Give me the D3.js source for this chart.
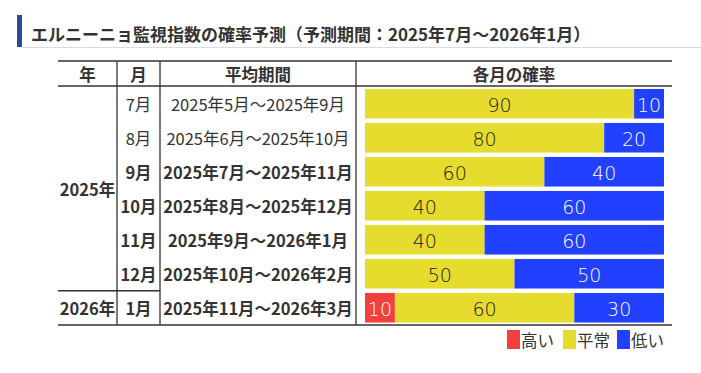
<!DOCTYPE html>
<html lang="ja">
<head>
  <meta charset="UTF-8">
  <title>エルニーニョ監視指数の確率予測</title>
  <script src="https://cdn.jsdelivr.net/npm/d3@7"></script>
  <style>
    body { margin: 0; background: #fff; }
    svg { display: block; font-family: "Noto Sans CJK JP", "Noto Sans", sans-serif; }
    .cell { fill: #333; font-size: 16.5px; }
    .num { font-family: "DejaVu Sans", sans-serif; font-weight: 200; font-size: 19px; }
  </style>
</head>
<body>
<svg id="chart" width="701" height="373"></svg>
<script>
  const title   = "エルニーニョ監視指数の確率予測（予測期間：2025年7月～2026年1月）";
  const headers = ["年", "月", "平均期間", "各月の確率"];
  const months  = ["7月", "8月", "9月", "10月", "11月", "12月", "1月"];
  const periods = ["2025年5月～2025年9月", "2025年6月～2025年10月", "2025年7月～2025年11月",
                   "2025年8月～2025年12月", "2025年9月～2026年1月", "2025年10月～2026年2月",
                   "2025年11月～2026年3月"];
  const boldRow = [false, false, true, true, true, true, true];
  const years   = [{ label: "2025年", from: 0, to: 5 }, { label: "2026年", from: 6, to: 6 }];
  const high    = [0, 0, 0, 0, 0, 0, 10];
  const normal  = [90, 80, 60, 40, 40, 50, 60];
  const low     = [10, 20, 40, 60, 60, 50, 30];
  const keys    = ["高い", "平常", "低い"];
  const colors  = ["#f43f3f", "#e6dc2e", "#2140ff"];
  const textCol = ["#fff", "#222", "#fff"];

  const svg = d3.select("#chart");

  // title
  svg.append("rect").attr("x", 17).attr("y", 15).attr("width", 5).attr("height", 32).attr("fill", "#2b4a9a");
  svg.append("line").attr("x1", 22).attr("x2", 701).attr("y1", 47.5).attr("y2", 47.5)
    .attr("stroke", "#d8dbe6").attr("stroke-width", 1);
  svg.append("text").attr("x", 31).attr("y", 33).attr("dominant-baseline", "central")
    .attr("font-size", 17).attr("font-weight", "bold").attr("fill", "#333").text(title);

  // table frame
  const colX = [58, 117, 160, 356, 672];
  const tTop = 61, tHead = 86, tBottom = 325;
  const y = d3.scaleBand().domain(d3.range(months.length))
    .range([86.75, 324.75]).paddingInner(0.13).paddingOuter(0.065);
  const x = d3.scaleLinear().domain([0, 100]).range([365, 664]);

  const lines = svg.append("g").attr("stroke", "#333").attr("stroke-width", 1.3);
  [tTop, tHead, tBottom].forEach(v =>
    lines.append("line").attr("x1", colX[0]).attr("x2", colX[4]).attr("y1", v).attr("y2", v));
  colX.slice(1, 4).forEach(v =>
    lines.append("line").attr("x1", v).attr("x2", v).attr("y1", tTop).attr("y2", tBottom));
  const split = (y(years[0].to) + y.bandwidth() + y(years[1].from)) / 2;
  lines.append("line").attr("x1", colX[0]).attr("x2", colX[2]).attr("y1", split).attr("y2", split);

  // headers
  svg.append("g").selectAll("text").data(headers).join("text")
    .attr("class", "cell").attr("font-weight", "bold").attr("text-anchor", "middle")
    .attr("dominant-baseline", "central")
    .attr("x", (d, i) => (colX[i] + colX[i + 1]) / 2).attr("y", (tTop + tHead) / 2)
    .text(d => d);

  // year cells
  svg.append("g").selectAll("text").data(years).join("text")
    .attr("class", "cell").attr("font-weight", "bold").attr("text-anchor", "middle")
    .attr("dominant-baseline", "central")
    .attr("x", (colX[0] + colX[1]) / 2)
    .attr("y", d => (y(d.from) + y(d.to) + y.bandwidth()) / 2)
    .text(d => d.label);

  // month + period cells
  const rows = svg.append("g").selectAll("g").data(months).join("g")
    .attr("transform", (d, i) => `translate(0,${y(i) + y.bandwidth() / 2})`)
    .attr("font-weight", (d, i) => boldRow[i] ? "bold" : "normal");
  rows.append("text").attr("class", "cell").attr("text-anchor", "middle").attr("dominant-baseline", "central")
    .attr("x", (colX[1] + colX[2]) / 2).text(d => d);
  rows.append("text").attr("class", "cell").attr("text-anchor", "middle").attr("dominant-baseline", "central")
    .attr("x", (colX[2] + colX[3]) / 2).text((d, i) => periods[i]);

  // stacked bars
  const table = months.map((m, i) => ({ "高い": high[i], "平常": normal[i], "低い": low[i] }));
  const stack = d3.stack().keys(keys)(table);
  const segs = stack.flatMap((layer, k) => layer.map((v, i) => ({ k, i, x0: v[0], x1: v[1] })))
    .filter(d => d.x1 > d.x0);

  svg.append("g").selectAll("rect").data(segs).join("rect")
    .attr("x", d => x(d.x0)).attr("width", d => x(d.x1) - x(d.x0))
    .attr("y", d => y(d.i)).attr("height", y.bandwidth())
    .attr("fill", d => colors[d.k]);
  svg.append("g").selectAll("text").data(segs).join("text")
    .attr("class", "num").attr("text-anchor", "middle").attr("dominant-baseline", "central")
    .attr("x", d => (x(d.x0) + x(d.x1)) / 2)
    .attr("y", d => y(d.i) + y.bandwidth() / 2 + 1)
    .attr("fill", d => textCol[d.k])
    .text(d => d.x1 - d.x0);

  // legend
  const legX = [507, 563, 617];
  const leg = svg.append("g").selectAll("g").data(keys).join("g")
    .attr("transform", (d, i) => `translate(${legX[i]},330)`);
  leg.append("rect").attr("width", 13).attr("height", 19).attr("fill", (d, i) => colors[i]);
  leg.append("text").attr("x", 14).attr("y", 10).attr("dominant-baseline", "central")
    .attr("font-size", 16.5).attr("fill", "#333").text(d => d);
</script>
</body>
</html>
